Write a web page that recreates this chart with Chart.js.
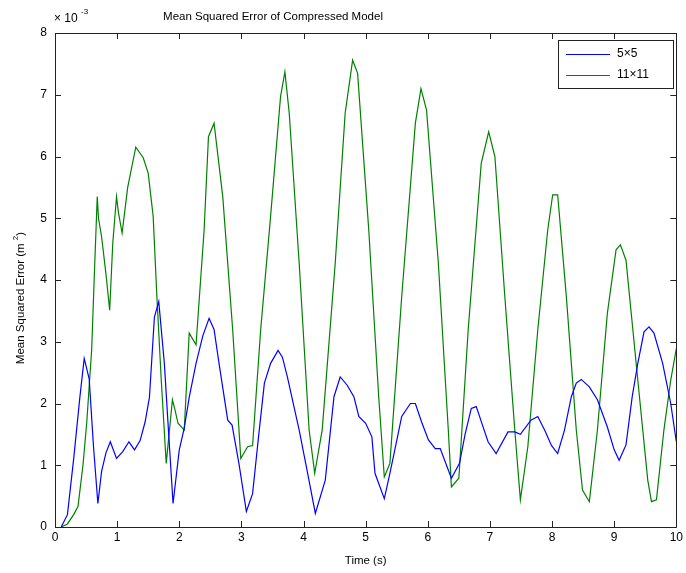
<!DOCTYPE html>
<html>
<head>
<meta charset="utf-8">
<script src="https://cdn.jsdelivr.net/npm/chart.js@4/dist/chart.umd.min.js"></script>
<style>
    html, body { margin: 0; padding: 0; background: #fff; }
    #wrap { width: 686px; height: 573px; position: relative; }
</style>
</head>
<body>
<div id="wrap"><canvas id="mseChart" width="686" height="573"></canvas></div>
<script>
// Values, MSE in units of 1e-3
const timeSmall = [0.1, 0.2, 0.3, 0.4, 0.47, 0.55, 0.62, 0.69, 0.75, 0.82, 0.89, 0.99, 1.09, 1.19, 1.28, 1.37, 1.45, 1.52, 1.6, 1.67,
    1.76, 1.83, 1.9, 2.0, 2.08, 2.16, 2.27, 2.38, 2.48, 2.56, 2.64, 2.78, 2.85, 2.96, 3.08, 3.18, 3.28, 3.37, 3.47, 3.59,
    3.66, 3.74, 3.93, 4.06, 4.19, 4.35, 4.49, 4.59, 4.7, 4.81, 4.89, 5.0, 5.1, 5.15, 5.3, 5.39, 5.5, 5.58, 5.72, 5.8,
    5.9, 6.01, 6.12, 6.2, 6.38, 6.51, 6.6, 6.7, 6.78, 6.88, 6.97, 7.1, 7.29, 7.4, 7.49, 7.66, 7.77, 7.88, 7.99, 8.09,
    8.2, 8.31, 8.39, 8.47, 8.6, 8.73, 8.89, 9.0, 9.08, 9.19, 9.29, 9.38, 9.48, 9.56, 9.64, 9.78, 9.91, 10];
const mseSmall = [0, 0.2, 1.1, 2.1, 2.73, 2.4, 1.3, 0.38, 0.9, 1.2, 1.38, 1.11, 1.22, 1.38, 1.25, 1.4, 1.7, 2.1, 3.4, 3.65,
    2.65, 1.5, 0.38, 1.25, 1.6, 2.1, 2.65, 3.1, 3.38, 3.2, 2.65, 1.73, 1.65, 1.03, 0.25, 0.54, 1.5, 2.33, 2.65, 2.86,
    2.75, 2.43, 1.57, 0.9, 0.22, 0.76, 2.11, 2.43, 2.3, 2.11, 1.79, 1.68, 1.46, 0.87, 0.46, 0.87, 1.4, 1.79, 2.0, 2.0,
    1.7, 1.41, 1.27, 1.27, 0.79, 1.03, 1.5, 1.92, 1.95, 1.65, 1.38, 1.19, 1.54, 1.54, 1.5, 1.73, 1.79, 1.57, 1.32, 1.19,
    1.57, 2.11, 2.33, 2.39, 2.27, 2.06, 1.62, 1.25, 1.08, 1.33, 2.11, 2.65, 3.16, 3.24, 3.14, 2.65, 2.0, 1.38];

const timeLarge = [0.1, 0.2, 0.3, 0.37, 0.45, 0.51, 0.59, 0.64, 0.68, 0.7, 0.75, 0.82, 0.88, 0.93, 0.99, 1.02, 1.08, 1.17, 1.3, 1.42,
    1.5, 1.58, 1.64, 1.71, 1.79, 1.89, 1.93, 1.98, 2.08, 2.16, 2.27, 2.4, 2.47, 2.56, 2.7, 2.86, 2.99, 3.1, 3.18, 3.31,
    3.47, 3.63, 3.7, 3.77, 3.93, 4.09, 4.18, 4.3, 4.51, 4.67, 4.79, 4.87, 5.05, 5.21, 5.3, 5.39, 5.58, 5.8, 5.89, 5.98,
    6.17, 6.33, 6.38, 6.5, 6.65, 6.86, 6.98, 7.08, 7.24, 7.4, 7.49, 7.61, 7.77, 7.93, 8.01, 8.09, 8.23, 8.39, 8.49, 8.6,
    8.73, 8.89, 9.03, 9.1, 9.19, 9.38, 9.54, 9.6, 9.68, 9.8, 9.91, 10];
const mseLarge = [0, 0.05, 0.2, 0.33, 1.0, 1.68, 2.87, 4.27, 5.35, 5.0, 4.7, 4.1, 3.51, 4.6, 5.35, 5.1, 4.76, 5.5, 6.15, 5.98,
    5.73, 5.03, 3.73, 2.38, 1.03, 2.06, 1.9, 1.68, 1.57, 3.14, 2.95, 4.81, 6.32, 6.54, 5.35, 3.19, 1.11, 1.3, 1.32, 3.19,
    5.03, 6.97, 7.37, 6.7, 4.27, 1.57, 0.87, 1.57, 4.27, 6.7, 7.56, 7.35, 4.81, 2.11, 0.81, 1.03, 3.73, 6.54, 7.1, 6.75,
    4.27, 1.57, 0.65, 0.79, 3.19, 5.89, 6.4, 6.0, 3.73, 1.57, 0.44, 1.3, 3.19, 4.81, 5.38, 5.38, 3.73, 1.57, 0.6, 0.41,
    1.57, 3.46, 4.49, 4.57, 4.32, 2.38, 0.76, 0.41, 0.44, 1.57, 2.38, 2.89];

const seriesLabels = ['5\u00d75', '11\u00d711'];
const xTicks = [0, 1, 2, 3, 4, 5, 6, 7, 8, 9, 10];
const yTicks = [0, 1, 2, 3, 4, 5, 6, 7, 8];

const FONT = 'Liberation Sans, Arial, sans-serif';

// MATLAB-style box, inward ticks, title, exponent, y label and legend
const matlabFrame = {
    id: 'matlabFrame',
    afterDraw(chart) {
        const ctx = chart.ctx;
        const a = chart.chartArea;
        const xs = chart.scales.x;
        const ys = chart.scales.y;
        ctx.save();
        ctx.strokeStyle = '#222';
        ctx.lineWidth = 1;
        ctx.beginPath();
        ctx.rect(Math.round(a.left) + 0.5, Math.round(a.top) + 0.5,
            Math.round(a.right - a.left), Math.round(a.bottom - a.top));
        ctx.stroke();

        ctx.beginPath();
        xTicks.forEach(v => {
            const px = Math.round(xs.getPixelForValue(v)) + 0.5;
            ctx.moveTo(px, a.bottom); ctx.lineTo(px, a.bottom - 6);
            ctx.moveTo(px, a.top); ctx.lineTo(px, a.top + 6);
        });
        yTicks.forEach(v => {
            const py = Math.round(ys.getPixelForValue(v)) + 0.5;
            ctx.moveTo(a.left, py); ctx.lineTo(a.left + 6, py);
            ctx.moveTo(a.right, py); ctx.lineTo(a.right - 6, py);
        });
        ctx.stroke();

        // title
        ctx.fillStyle = '#000';
        ctx.font = '11.5px ' + FONT;
        ctx.textAlign = 'center';
        ctx.textBaseline = 'middle';
        ctx.fillText('Mean Squared Error of Compressed Model', 273, 17);

        // exponent
        ctx.textAlign = 'left';
        ctx.font = '12px ' + FONT;
        ctx.fillText('\u00d7 10', 54, 19);
        ctx.font = '8px ' + FONT;
        ctx.fillText('-3', 81, 12);

        // y axis label with superscript
        ctx.save();
        ctx.translate(21, 298);
        ctx.rotate(-Math.PI / 2);
        ctx.font = '11.5px ' + FONT;
        const main = 'Mean Squared Error (m ';
        const w1 = ctx.measureText(main).width;
        ctx.font = '8px ' + FONT;
        const w2 = ctx.measureText('2').width;
        ctx.font = '11.5px ' + FONT;
        const w3 = ctx.measureText(')').width;
        let x0 = -(w1 + w2 + w3) / 2;
        ctx.textAlign = 'left';
        ctx.fillText(main, x0, 0);
        ctx.font = '8px ' + FONT;
        ctx.fillText('2', x0 + w1, -5);
        ctx.font = '11.5px ' + FONT;
        ctx.fillText(')', x0 + w1 + w2, 0);
        ctx.restore();

        // legend
        const lx = 558, ly = 40, lw = 115, lh = 48;
        ctx.fillStyle = '#fff';
        ctx.fillRect(lx, ly, lw, lh);
        ctx.strokeStyle = '#222';
        ctx.lineWidth = 1;
        ctx.strokeRect(lx + 0.5, ly + 0.5, lw, lh);
        ctx.font = '12px ' + FONT;
        ctx.textBaseline = 'middle';
        chart.data.datasets.forEach((ds, i) => {
            const yy = ly + 14 + i * 21;
            ctx.strokeStyle = ds.borderColor;
            ctx.lineWidth = 1.2;
            ctx.beginPath();
            ctx.moveTo(lx + 8, yy + 0.5);
            ctx.lineTo(lx + 52, yy + 0.5);
            ctx.stroke();
            ctx.fillStyle = '#000';
            ctx.fillText(ds.label, lx + 59, yy);
        });
        ctx.restore();
    }
};

const ctx = document.getElementById('mseChart');
new Chart(ctx, {
    type: 'line',
    data: {
        datasets: [{
            label: seriesLabels[0],
            data: timeSmall.map((t, i) => ({ x: t, y: mseSmall[i] })),
            borderColor: '#0000ff',
            borderWidth: 1.2,
            pointRadius: 0,
            tension: 0,
            fill: false
        }, {
            label: seriesLabels[1],
            data: timeLarge.map((t, i) => ({ x: t, y: mseLarge[i] })),
            borderColor: '#008000',
            borderWidth: 1.2,
            pointRadius: 0,
            tension: 0,
            fill: false
        }]
    },
    options: {
        responsive: false,
        animation: false,
        events: [],
        layout: { padding: { top: 33, right: 7, left: 0, bottom: 0 } },
        plugins: {
            legend: { display: false },
            title: { display: false },
            tooltip: { enabled: false }
        },
        scales: {
            x: {
                type: 'linear',
                min: 0,
                max: 10,
                afterBuildTicks: scale => { scale.ticks = xTicks.map(v => ({ value: v })); },
                afterFit: scale => { scale.height = 46; },
                grid: { display: false, drawTicks: false },
                border: { display: false },
                ticks: {
                    color: '#000',
                    padding: 3,
                    maxRotation: 0,
                    font: { family: FONT, size: 12 }
                },
                title: {
                    display: true,
                    text: 'Time (s)',
                    color: '#000',
                    padding: { top: 0, bottom: 5 },
                    font: { family: FONT, size: 11.5 }
                }
            },
            y: {
                type: 'linear',
                min: 0,
                max: 8,
                afterBuildTicks: scale => { scale.ticks = yTicks.map(v => ({ value: v })); },
                afterFit: scale => { scale.width = 55; },
                grid: { display: false, drawTicks: false },
                border: { display: false },
                ticks: {
                    color: '#000',
                    padding: 8,
                    font: { family: FONT, size: 12 }
                }
            }
        }
    },
    plugins: [matlabFrame]
});
</script>
</body>
</html>
